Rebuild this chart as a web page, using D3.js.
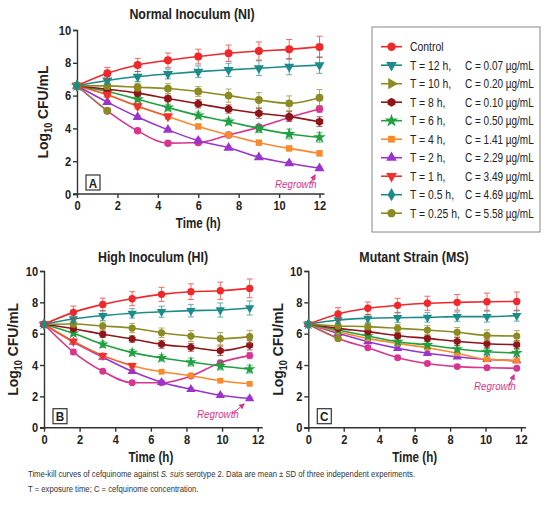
<!DOCTYPE html>
<html>
<head>
<meta charset="utf-8">
<script src="https://cdn.jsdelivr.net/npm/d3@7"></script>
<style>
  body { margin: 0; background: #fff; }
  svg text { font-family: "Liberation Sans", Arial, sans-serif; }
</style>
</head>
<body>
<div id="chart"></div>
<script>
// sampling times (h)
const timesA = [0, 1.5, 3, 4.5, 6, 7.5, 9, 10.5, 12];
const timesB = [0, 1.65, 3.3, 4.95, 6.6, 8.25, 9.9, 11.55];
const timesC = [0, 1.68, 3.36, 5.04, 6.72, 8.4, 10.08, 11.76];

// curve order: Control, T=12h, T=10h, T=8h, T=6h, T=4h, T=2h, regrowth curve
const curveNames = ["Control", "T = 12 h", "T = 10 h", "T = 8 h", "T = 6 h", "T = 4 h", "T = 2 h", "Regrowth"];

// Normal inoculum (NI) means, log10 CFU/mL
const meansA = [
    [6.6, 7.36, 7.87, 8.15, 8.38, 8.58, 8.72, 8.82, 8.97],
    [6.6, 6.92, 7.16, 7.32, 7.46, 7.57, 7.67, 7.77, 7.86],
    [6.6, 6.59, 6.51, 6.43, 6.25, 6.0, 5.73, 5.53, 5.87],
    [6.6, 6.39, 6.15, 5.82, 5.5, 5.18, 4.92, 4.72, 4.41],
    [6.6, 6.25, 5.78, 5.27, 4.79, 4.41, 4.0, 3.66, 3.46],
    [6.6, 6.05, 5.35, 4.73, 4.12, 3.6, 3.13, 2.78, 2.48],
    [6.6, 5.6, 4.69, 3.91, 3.25, 2.82, 2.24, 1.87, 1.57],
    [6.6, 5.07, 3.85, 3.1, 3.14, 3.6, 4.07, 4.67, 5.18]
];
const sdA = [
    [0.15, 0.35, 0.4, 0.45, 0.45, 0.5, 0.55, 0.6, 0.65],
    [0.15, 0.25, 0.3, 0.3, 0.35, 0.4, 0.45, 0.5, 0.5],
    [0.15, 0.2, 0.25, 0.3, 0.3, 0.4, 0.45, 0.45, 0.5],
    [0.15, 0.15, 0.2, 0.2, 0.25, 0.25, 0.3, 0.3, 0.3],
    [0.15, 0.15, 0.15, 0.2, 0.2, 0.2, 0.25, 0.3, 0.3],
    [0.15, 0.1, 0.1, 0.15, 0.15, 0.15, 0.15, 0.15, 0.15],
    [0.15, 0.1, 0.1, 0.1, 0.15, 0.1, 0.1, 0.1, 0.1],
    [0.15, 0.1, 0.1, 0.1, 0.15, 0.1, 0.15, 0.15, 0.2]
];

// High inoculum (HI)
const meansB = [
    [6.6, 7.36, 7.87, 8.23, 8.51, 8.68, 8.74, 8.89],
    [6.6, 6.94, 7.15, 7.3, 7.4, 7.47, 7.51, 7.64],
    [6.6, 6.62, 6.49, 6.36, 6.06, 5.85, 5.68, 5.81],
    [6.6, 6.32, 5.96, 5.66, 5.32, 5.13, 4.91, 5.26],
    [6.6, 6.02, 5.32, 4.79, 4.45, 4.19, 3.94, 3.74],
    [6.6, 5.5, 4.6, 3.96, 3.57, 3.32, 3.0, 2.8],
    [6.6, 5.47, 4.5, 3.6, 2.9, 2.45, 2.07, 1.86],
    [6.6, 4.83, 3.6, 2.87, 2.87, 3.3, 4.15, 4.6]
];
const sdB = [
    [0.15, 0.4, 0.4, 0.45, 0.45, 0.5, 0.55, 0.6],
    [0.15, 0.25, 0.3, 0.3, 0.35, 0.4, 0.45, 0.45],
    [0.15, 0.2, 0.25, 0.3, 0.3, 0.35, 0.4, 0.4],
    [0.15, 0.15, 0.2, 0.2, 0.25, 0.25, 0.3, 0.3],
    [0.15, 0.15, 0.2, 0.2, 0.2, 0.25, 0.25, 0.25],
    [0.15, 0.1, 0.1, 0.1, 0.1, 0.1, 0.1, 0.1],
    [0.15, 0.1, 0.1, 0.1, 0.1, 0.1, 0.1, 0.1],
    [0.15, 0.15, 0.1, 0.1, 0.1, 0.1, 0.1, 0.2]
];

// Mutant strain (MS)
const meansC = [
    [6.6, 7.26, 7.62, 7.81, 7.94, 8.0, 8.04, 8.06],
    [6.6, 6.87, 6.98, 7.02, 7.04, 7.09, 7.09, 7.15],
    [6.6, 6.49, 6.45, 6.34, 6.23, 6.09, 5.89, 5.85],
    [6.6, 6.34, 6.13, 5.87, 5.7, 5.51, 5.36, 5.3],
    [6.6, 6.23, 5.85, 5.49, 5.28, 5.02, 4.85, 4.77],
    [6.6, 6.13, 5.7, 5.38, 5.1, 4.75, 4.36, 4.28],
    [6.6, 6.02, 5.49, 5.07, 4.75, 4.53, 4.36, 4.28],
    [6.6, 5.7, 5.1, 4.47, 4.1, 3.9, 3.83, 3.79]
];
const sdC = [
    [0.15, 0.4, 0.4, 0.45, 0.45, 0.5, 0.55, 0.6],
    [0.15, 0.2, 0.25, 0.3, 0.3, 0.3, 0.35, 0.35],
    [0.15, 0.2, 0.2, 0.25, 0.3, 0.3, 0.35, 0.35],
    [0.15, 0.15, 0.2, 0.2, 0.2, 0.25, 0.25, 0.25],
    [0.15, 0.15, 0.15, 0.2, 0.2, 0.2, 0.2, 0.2],
    [0.15, 0.1, 0.1, 0.1, 0.1, 0.1, 0.1, 0.1],
    [0.15, 0.1, 0.1, 0.1, 0.1, 0.1, 0.1, 0.1],
    [0.15, 0.1, 0.1, 0.1, 0.1, 0.1, 0.1, 0.1]
];

// short-exposure series that sit on top of other curves early on
const t1A = [6.6, 6.05, 5.35, 4.73];
const t1B = [6.6, 5.5, 4.6, 3.96];
const t025A = [6.6, 5.07];
const t025C = [6.6, 5.7];

const yTicks = [0, 2, 4, 6, 8, 10];
const xTicks = [0, 2, 4, 6, 8, 10, 12];

const legendT = ["Control", "T = 12 h,", "T = 10 h,", "T = 8 h,", "T = 6 h,", "T = 4 h,", "T = 2 h,", "T = 1 h,", "T = 0.5 h,", "T = 0.25 h,"];
const legendC = ["", "C = 0.07 µg/mL", "C = 0.20 µg/mL", "C = 0.10 µg/mL", "C = 0.50 µg/mL", "C = 1.41 µg/mL", "C = 2.29 µg/mL", "C = 3.49 µg/mL", "C = 4.69 µg/mL", "C = 5.58 µg/mL"];

// hexagon marker for the T = 8 h series
const symbolHex = {
    draw(ctx, size) {
        const r = Math.sqrt(size / (1.5 * Math.sqrt(3)));
        for (let i = 0; i < 6; i++) {
            const a = Math.PI / 3 * i + Math.PI / 6;
            if (i == 0) ctx.moveTo(r * Math.cos(a), r * Math.sin(a));
            else ctx.lineTo(r * Math.cos(a), r * Math.sin(a));
        }
        ctx.closePath();
    }
};

// styles: colour, symbol, rotation, size
const styles = {
    "Control":   { color: "#f0282c", sym: d3.symbolCircle, rot: 0, size: 50 },
    "T = 12 h":  { color: "#1c8c88", sym: d3.symbolTriangle, rot: 180, size: 44 },
    "T = 10 h":  { color: "#8c8a22", sym: d3.symbolCircle, rot: 0, size: 48 },
    "T = 8 h":   { color: "#8e1518", sym: symbolHex, rot: 0, size: 48 },
    "T = 6 h":   { color: "#20a040", sym: d3.symbolStar, rot: 0, size: 50 },
    "T = 4 h":   { color: "#f88a2c", sym: d3.symbolSquare, rot: 0, size: 40 },
    "T = 2 h":   { color: "#9a34cc", sym: d3.symbolTriangle, rot: 0, size: 44 },
    "Regrowth":  { color: "#d8358f", sym: d3.symbolCircle, rot: 0, size: 44 },
    "T = 1 h":   { color: "#f0302e", sym: d3.symbolTriangle, rot: 180, size: 44 },
    "T = 0.5 h": { color: "#1c8c88", sym: d3.symbolDiamond, rot: 0, size: 44 },
    "T = 0.25 h":{ color: "#8c8a22", sym: d3.symbolCircle, rot: 0, size: 48 }
};
const legendStyleKeys = ["Control", "T = 12 h", "T = 10 h", "T = 8 h", "T = 6 h", "T = 4 h", "T = 2 h", "T = 1 h", "T = 0.5 h", "T = 0.25 h"];
const legendSym = { "T = 10 h": { sym: d3.symbolTriangle, rot: 90 } };

// the source uses a narrow face; squeeze Liberation Sans horizontally
const NARROW = 0.8;
const addText = (g, str, x, y, size, weight, anchor, sx) => g.append("text")
    .text(str)
    .attr("transform", `translate(${x},${y}) scale(${sx || NARROW},1)`)
    .attr("text-anchor", anchor || "start")
    .style("font-size", size + "px").style("font-weight", weight || "normal")
    .style("fill", "#222");

const svg = d3.select("#chart").append("svg")
    .attr("width", 550).attr("height", 513)
    .style("background", "#fff");

const drawPanel = (p) => {
    const x = d3.scaleLinear().domain([0, 12]).range([p.x0, p.x1]);
    const y = d3.scaleLinear().domain([0, 10]).range([p.y0, p.y1]);
    const g = svg.append("g");

    addText(g, p.title, p.titleX, p.titleY, 15.5, "bold", "middle");

    // axes
    const xAxis = g.append("g").attr("transform", `translate(0,${p.y0})`)
        .call(d3.axisBottom(x).tickValues(xTicks).tickSize(4).tickPadding(3));
    xAxis.select(".domain").attr("d", `M${p.x0 - 4},0H${p.x1 + 5}`);
    const yAxis = g.append("g").attr("transform", `translate(${p.x0},0)`)
        .call(d3.axisLeft(y).tickValues(yTicks).tickSize(4).tickPadding(3));
    [xAxis, yAxis].forEach(a => {
        a.selectAll(".domain, line").attr("stroke", "#333").attr("stroke-width", 1.4);
        a.selectAll("text").attr("transform", `scale(${NARROW + 0.05},1)`)
            .style("font-size", "13px").style("font-weight", "bold").style("fill", "#222")
            .style("font-family", "'Liberation Sans', Arial, sans-serif");
    });

    const yl = g.append("text")
        .attr("transform", `translate(${p.ylabX},${(p.y0 + p.y1) / 2}) rotate(-90) scale(0.9,1)`)
        .attr("text-anchor", "middle")
        .style("font-size", "15.5px").style("font-weight", "bold").style("fill", "#222");
    yl.append("tspan").text("Log");
    yl.append("tspan").text("10").style("font-size", "10px").attr("dy", 4);
    yl.append("tspan").text(" CFU/mL").attr("dy", -4);

    addText(g, "Time (h)", (p.x0 + p.x1) / 2, p.y0 + 34, 14.5, "bold", "middle");

    // panel letter box
    g.append("rect").attr("x", p.x0 + 9).attr("y", p.y0 - 19).attr("width", 14).attr("height", 15)
        .attr("fill", "#fff").attr("stroke", "#333").attr("stroke-width", 1.2);
    addText(g, p.letter, p.x0 + 16, p.y0 - 6.5, 13, "bold", "middle", 0.9);

    const line = d3.line().curve(d3.curveMonotoneX)
        .x(d => x(d.t)).y(d => y(d.v));

    const drawSeries = (name, times, vals, sds, lineOpacity) => {
        const st = styles[name];
        const pts = vals.map((v, i) => ({ t: times[i], v: v, sd: sds ? sds[i] : 0 }));
        const s = g.append("g");
        s.append("path").datum(pts).attr("d", line)
            .attr("fill", "none").attr("stroke", st.color)
            .attr("stroke-width", 1.6).attr("opacity", lineOpacity);
        if (sds) {
            const eb = s.selectAll(".eb").data(pts.slice(1)).join("g")
                .attr("stroke", st.color).attr("stroke-width", 1).attr("opacity", 0.7);
            eb.append("line").attr("x1", d => x(d.t)).attr("x2", d => x(d.t))
                .attr("y1", d => y(d.v - d.sd)).attr("y2", d => y(d.v + d.sd));
            eb.append("line").attr("x1", d => x(d.t) - 3).attr("x2", d => x(d.t) + 3)
                .attr("y1", d => y(d.v + d.sd)).attr("y2", d => y(d.v + d.sd));
            eb.append("line").attr("x1", d => x(d.t) - 3).attr("x2", d => x(d.t) + 3)
                .attr("y1", d => y(d.v - d.sd)).attr("y2", d => y(d.v - d.sd));
        }
        s.selectAll(".pt").data(pts).join("path")
            .attr("d", d3.symbol().type(st.sym).size(st.size * p.mk))
            .attr("transform", d => `translate(${x(d.t)},${y(d.v)}) rotate(${st.rot})`)
            .attr("fill", st.color);
    };

    // draw lowest curves first so control sits on top
    for (let i = curveNames.length - 1; i >= 0; i--) {
        drawSeries(curveNames[i], p.times, p.means[i], p.sds[i], 1);
    }
    if (p.t1) drawSeries("T = 1 h", p.times, p.t1, null, 0.55);
    if (p.t025) drawSeries("T = 0.25 h", p.times, p.t025, null, 0.6);
    drawSeries("T = 0.5 h", p.times, [6.6], null, 1);

    // regrowth note
    addText(g, "Regrowth", p.regX, p.regY, 11.5, "normal", "start", 0.85)
        .style("font-style", "italic").style("fill", "#d8358f");
    g.append("line")
        .attr("x1", p.regX + 35).attr("y1", p.regY - 4)
        .attr("x2", p.arrX).attr("y2", p.arrY)
        .attr("stroke", "#d8358f").attr("stroke-width", 1).attr("marker-end", "url(#arrow)");
};

svg.append("defs").append("marker").attr("id", "arrow")
    .attr("viewBox", "0 0 10 10").attr("refX", 8).attr("refY", 5)
    .attr("markerWidth", 6).attr("markerHeight", 6).attr("orient", "auto")
    .append("path").attr("d", "M0,0L10,5L0,10z").attr("fill", "#d8358f");

drawPanel({ title: "Normal Inoculum (NI)", titleX: 192, titleY: 19, letter: "A",
    x0: 77, x1: 319.5, y0: 194, y1: 30, ylabX: 48, mk: 1,
    times: timesA, means: meansA, sds: sdA, t1: t1A, t025: t025A,
    regX: 275, regY: 188, arrX: 315, arrY: 175 });
drawPanel({ title: "High Inoculum (HI)", titleX: 153, titleY: 262, letter: "B",
    x0: 44, x1: 257.7, y0: 427.7, y1: 271, ylabX: 18, mk: 0.85,
    times: timesB, means: meansB, sds: sdB, t1: t1B,
    regX: 197, regY: 418, arrX: 244, arrY: 404 });
drawPanel({ title: "Mutant Strain (MS)", titleX: 414, titleY: 262, letter: "C",
    x0: 308.3, x1: 521, y0: 427.7, y1: 271, ylabX: 283, mk: 0.85,
    times: timesC, means: meansC, sds: sdC, t025: t025C,
    regX: 474, regY: 390, arrX: 514, arrY: 375 });

// legend
const lg = svg.append("g");
lg.append("rect").attr("x", 372).attr("y", 27).attr("width", 168).attr("height", 205)
    .attr("fill", "#fff").attr("stroke", "#888").attr("stroke-width", 1);
const rows = lg.selectAll(".row").data(legendStyleKeys).join("g")
    .attr("transform", (d, i) => `translate(0,${46.7 + i * 18.5})`);
rows.append("line").attr("x1", 381).attr("x2", 402).attr("y1", 0).attr("y2", 0)
    .attr("stroke", d => styles[d].color).attr("stroke-width", 1.6);
rows.append("path")
    .attr("d", d => d3.symbol().type(legendSym[d] ? legendSym[d].sym : styles[d].sym).size(styles[d].size + 6)())
    .attr("transform", d => `translate(391.5,0) rotate(${legendSym[d] ? legendSym[d].rot : styles[d].rot})`)
    .attr("fill", d => styles[d].color);
rows.each(function (d, i) {
    const r = d3.select(this);
    addText(r, legendT[i], 410, 4.5, 13);
    if (legendC[i]) addText(r, legendC[i], 465, 4.5, 12.5);
});

// caption
const cap = svg.append("g");
const c1 = addText(cap, "", 28, 477, 9.4, "normal", "start", 0.82).style("fill", "#333");
c1.append("tspan").text("Time-kill curves of cefquinome against ");
c1.append("tspan").text("S. suis").style("font-style", "italic");
c1.append("tspan").text(" serotype 2.  Data are mean ± SD of three independent experiments.");
addText(cap, "T = exposure time; C = cefquinome concentration.", 28, 492, 9.4, "normal", "start", 0.82)
    .style("fill", "#333");
</script>
</body>
</html>
